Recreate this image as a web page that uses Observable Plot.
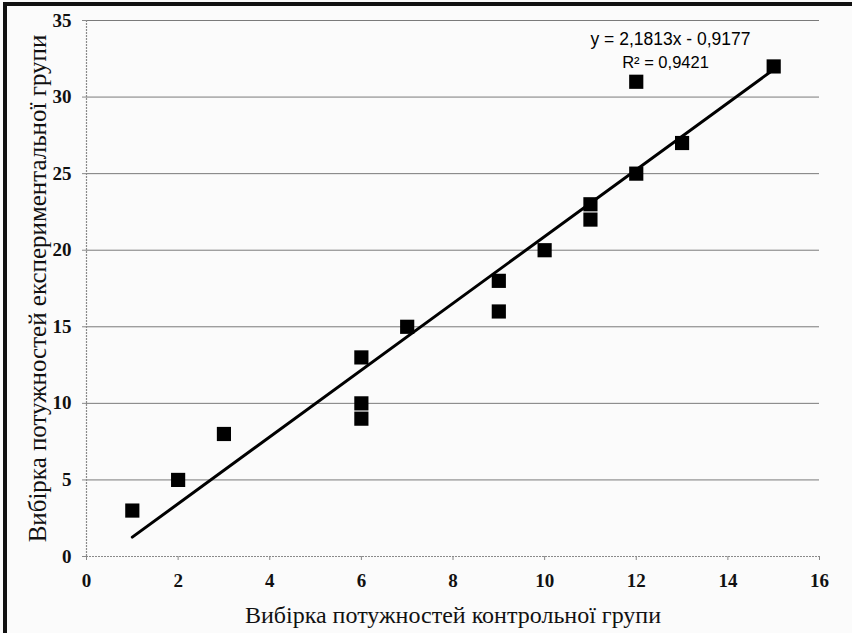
<!DOCTYPE html>
<html>
<head>
<meta charset="utf-8">
<script src="https://cdn.jsdelivr.net/npm/d3@7"></script>
<script src="https://cdn.jsdelivr.net/npm/@observablehq/plot@0.6"></script>
<style>
  html, body { margin: 0; padding: 0; background: #fbfbfb; }
  #wrap { position: relative; width: 852px; height: 633px; overflow: hidden; background: #fbfbfb; }
  #frame { position: absolute; left: 3px; top: 2px; width: 870px; height: 660px;
           border-left: 4px solid #111; border-top: 4px solid #111; box-sizing: border-box; }
  #chart { position: absolute; left: 0; top: 0; }
</style>
</head>
<body>
<div id="wrap"><div id="chart"></div><div id="frame"></div></div>
<script>
// Data
const controlGroup = [1, 2, 3, 6, 6, 6, 7, 9, 9, 10, 11, 11, 12, 12, 13, 15];
const experimentalGroup = [3, 5, 8, 13, 10, 9, 15, 18, 16, 20, 23, 22, 31, 25, 27, 32];
const xTicks = [0, 2, 4, 6, 8, 10, 12, 14, 16];
const yTicks = [0, 5, 10, 15, 20, 25, 30, 35];
const trendSlope = 2.1813;
const trendIntercept = -0.9177;
const trendRange = [1, 15];
const equationText = "y = 2,1813x - 0,9177";
const r2Text = "R² = 0,9421";
const xTitle = "Вибірка потужностей контрольної групи";
const yTitle = "Вибірка потужностей експериментальної групи";

const points = controlGroup.map((x, i) => ({x, y: experimentalGroup[i]}));
const trend = trendRange.map(x => ({x, y: trendSlope * x + trendIntercept}));

const serif = "Liberation Serif, Times New Roman, serif";
const sans = "Liberation Sans, Arial, sans-serif";

const chart = Plot.plot({
  width: 852,
  height: 633,
  marginLeft: 86,
  marginRight: 33,
  marginTop: 20,
  marginBottom: 77,
  style: {background: "transparent", fontFamily: serif, color: "#111"},
  x: {domain: [0, 16], ticks: xTicks},
  y: {domain: [0, 35], ticks: yTicks},
  marks: [
    Plot.gridY(yTicks.filter(d => d > 0), {stroke: "#7a7a7a", strokeOpacity: 1, strokeWidth: 1}),
    Plot.ruleY([0], {stroke: "#8a8a8a", strokeWidth: 1.2, strokeDasharray: "2,1"}),
    Plot.ruleX([0], {stroke: "#8a8a8a", strokeWidth: 1.2, strokeDasharray: "2,1"}),
    Plot.axisX(xTicks, {tickSize: 4, tickPadding: 13, fontSize: 19, fontWeight: "bold",
      fontFamily: serif, stroke: "#888", fill: "#111", label: null}),
    Plot.axisY(yTicks, {tickSize: 4, tickPadding: 11, fontSize: 19, fontWeight: "bold",
      fontFamily: serif, stroke: "#888", fill: "#111", label: null}),
    Plot.text([xTitle], {frameAnchor: "bottom", textAnchor: "middle", lineAnchor: "middle", dy: 59,
      fontSize: 24, fontFamily: serif, fill: "#111"}),
    Plot.text([yTitle], {frameAnchor: "left", textAnchor: "middle", lineAnchor: "middle", dx: -49,
      rotate: -90, fontSize: 25, fontFamily: serif, fill: "#111"}),
    Plot.line(trend, {x: "x", y: "y", stroke: "#000", strokeWidth: 3}),
    Plot.dot(points, {x: "x", y: "y", symbol: "square", r: 8, fill: "#000", stroke: "none"}),
    Plot.text([equationText], {frameAnchor: "top-right", textAnchor: "middle", lineAnchor: "middle",
      dx: -149, dy: 19, fontSize: 17.5, fontFamily: sans, fill: "#000"}),
    Plot.text([r2Text], {frameAnchor: "top-right", textAnchor: "middle", lineAnchor: "middle",
      dx: -154, dy: 42, fontSize: 16.5, fontFamily: sans, fill: "#000"})
  ]
});
document.getElementById("chart").appendChild(chart);
</script>
</body>
</html>
